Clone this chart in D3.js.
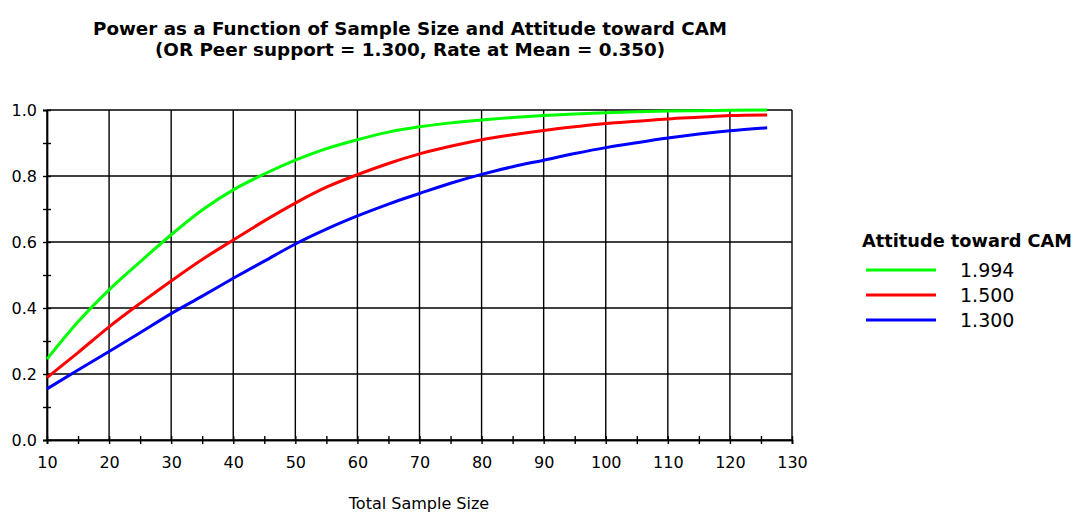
<!DOCTYPE html>
<html><head><meta charset="utf-8">
<script src="https://cdn.jsdelivr.net/npm/d3@7"></script>
<style>body{margin:0;background:#fff}svg{display:block}</style>
</head><body>
<svg id="c" width="1078" height="529"></svg>
<script>
const titleLines = ["Power as a Function of Sample Size and Attitude toward CAM",
                    "(OR Peer support = 1.300, Rate at Mean = 0.350)"];
const xLabel = "Total Sample Size";
const legendTitle = "Attitude toward CAM";
const seriesNames = ["1.994", "1.500", "1.300"];
const seriesColors = ["#00ff00", "#ff0000", "#0000ff"];
const sampleSizes = [10,15,20,25,30,35,40,45,50,55,60,65,70,75,80,85,90,95,100,105,110,115,120,126];
const powerHigh = [0.245,0.358,0.455,0.540,0.622,0.697,0.758,0.806,0.848,0.883,0.910,0.933,0.949,0.961,0.970,0.977,0.983,0.988,0.992,0.995,0.997,0.998,0.999,1.000];
const powerMid  = [0.189,0.265,0.343,0.414,0.482,0.547,0.606,0.664,0.718,0.766,0.804,0.838,0.867,0.890,0.910,0.925,0.938,0.949,0.959,0.966,0.973,0.978,0.983,0.985];
const powerLow  = [0.155,0.212,0.268,0.325,0.383,0.436,0.490,0.542,0.594,0.639,0.679,0.715,0.747,0.778,0.805,0.828,0.848,0.868,0.886,0.901,0.915,0.927,0.937,0.946];
const xTicks = [10,20,30,40,50,60,70,80,90,100,110,120,130];
const xMinorTicks = [15,25,35,45,55,65,75,85,95,105,115,125];
const yTicks = [0,0.2,0.4,0.6,0.8,1.0];
const yMinorTicks = [0.1,0.3,0.5,0.7,0.9];

const series = [powerHigh, powerMid, powerLow];
const svg = d3.select("#c");
const L = 47, R = 792, T = 110, B = 440;
const x = d3.scaleLinear().domain([10,130]).range([L,R]);
const y = d3.scaleLinear().domain([0,1]).range([B,T]);
const font = "'DejaVu Sans', Arial, sans-serif";

// title
const titleW = [634, 510];
titleLines.forEach((t,i)=>{
  svg.append("text").attr("x",410).attr("y",35+i*21).attr("text-anchor","middle")
    .attr("font-family",font).attr("font-weight","bold").attr("font-size",17.5).attr("fill","#000")
    .attr("textLength",titleW[i]).attr("lengthAdjust","spacingAndGlyphs").text(t);
});

// grid
const g = svg.append("g");
g.selectAll("line.vg").data(xTicks).join("line")
  .attr("x1",d=>x(d)).attr("x2",d=>x(d)).attr("y1",T).attr("y2",B)
  .attr("stroke","#000").attr("stroke-width",1.4);
g.selectAll("line.hg").data(yTicks).join("line")
  .attr("x1",L).attr("x2",R).attr("y1",d=>y(d)).attr("y2",d=>y(d))
  .attr("stroke","#000").attr("stroke-width",1.4);

// axes
const xAxis = d3.axisBottom(x).tickValues(xTicks).tickSize(4).tickPadding(13).tickFormat(d3.format("d"));
const xa = svg.append("g").attr("transform",`translate(0,${B})`).call(xAxis);
const xm = svg.append("g").attr("transform",`translate(0,${B})`).call(d3.axisBottom(x).tickValues(xMinorTicks).tickSize(4).tickFormat(""));
const yAxis = d3.axisLeft(y).tickValues(yTicks).tickSize(4).tickPadding(6).tickFormat(d3.format(".1f"));
const ya = svg.append("g").attr("transform",`translate(${L},0)`).call(yAxis);
const ym = svg.append("g").attr("transform",`translate(${L},0)`).call(d3.axisLeft(y).tickValues(yMinorTicks).tickSize(4).tickFormat(""));
[xa,xm,ya,ym].forEach(a=>{
  a.select(".domain").attr("stroke","#000").attr("stroke-width",1.4);
  a.selectAll(".tick line").attr("stroke","#000").attr("stroke-width",1.4);
  a.selectAll("text").attr("font-family",font).attr("font-size",16).attr("fill","#000");
});
xm.selectAll(".tick line").attr("y1",-4).attr("y2",4);
ym.selectAll(".tick line").attr("x1",4).attr("x2",-4);
xa.selectAll(".tick line").attr("y1",-4).attr("y2",4);
ya.selectAll(".tick line").attr("x1",4).attr("x2",-4);

svg.append("text").attr("x",419).attr("y",509).attr("text-anchor","middle")
  .attr("font-family",font).attr("font-size",16).attr("fill","#000").text(xLabel);

// lines
const line = d3.line().x((d,i)=>x(sampleSizes[i])).y(d=>y(d)).curve(d3.curveMonotoneX);
series.forEach((s,k)=>{
  svg.append("path").datum(s).attr("d",line).attr("fill","none")
    .attr("stroke",seriesColors[k]).attr("stroke-width",3);
});

// legend
const lg = svg.append("g");
lg.append("text").attr("x",862).attr("y",247).attr("font-family",font).attr("font-weight","bold")
  .attr("font-size",17).attr("fill","#000").attr("textLength",210).attr("lengthAdjust","spacingAndGlyphs").text(legendTitle);
seriesNames.forEach((n,k)=>{
  const yy = 270 + k*25;
  lg.append("line").attr("x1",866).attr("x2",936).attr("y1",yy).attr("y2",yy)
    .attr("stroke",seriesColors[k]).attr("stroke-width",3);
  lg.append("text").attr("x",960).attr("y",yy+7).attr("font-family",font)
    .attr("font-size",19).attr("fill","#000").text(n);
});
</script>
</body></html>
